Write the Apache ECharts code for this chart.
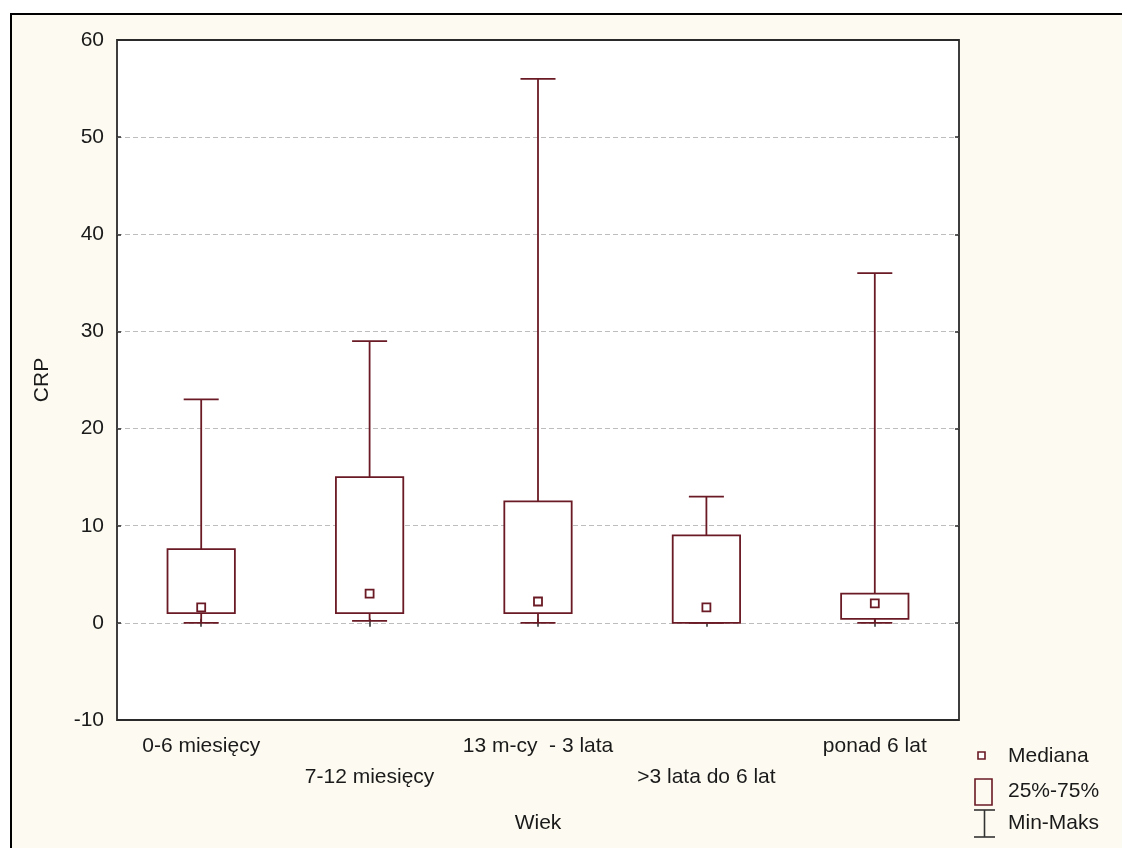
<!DOCTYPE html>
<html>
<head>
<meta charset="utf-8">
<title>CRP wg wieku</title>
<script src="https://cdn.jsdelivr.net/npm/echarts@6/dist/echarts.min.js"></script>
<style>
  html, body { margin: 0; padding: 0; background: #ffffff; }
  #chart { width: 1122px; height: 848px; }
</style>
</head>
<body>
<div id="chart"></div>
<script>
// Age groups and CRP summary statistics per group
const categories = ['0-6 miesięcy', '7-12 miesięcy', '13 m-cy  - 3 lata', '>3 lata do 6 lat', 'ponad 6 lat'];
const minValues    = [0,   0.2, 0,    0,   0];
const q1Values     = [1.0, 1.0, 1.0,  0,   0.4];
const medianValues = [1.6, 3.0, 2.2,  1.6, 2.0];
const q3Values     = [7.6, 15.0, 12.5, 9.0, 3.0];
const maxValues    = [23,  29,  56,   13,  36];
const yTicks = [-10, 0, 10, 20, 30, 40, 50, 60];

const LINE = '#6a1a24';
const TEXT = '#1a1a1a';
const FONT = 'Liberation Sans';
const FS = 21;

const boxData = categories.map((c, i) => [i, minValues[i], q1Values[i], medianValues[i], q3Values[i], maxValues[i]]);

function renderBox(params, api) {
  const idx = api.value(0);
  const band = api.size([1, 0])[0];
  const half = band * 0.2;
  const capHalf = half * 0.52;
  const pMin = api.coord([idx, api.value(1)]);
  const pQ1 = api.coord([idx, api.value(2)]);
  const pMed = api.coord([idx, api.value(3)]);
  const pQ3 = api.coord([idx, api.value(4)]);
  const pMax = api.coord([idx, api.value(5)]);
  const x = pQ1[0];
  const st = { stroke: LINE, lineWidth: 1.8, fill: null };
  const children = [
    { type: 'line', shape: { x1: x, y1: pMax[1], x2: x, y2: pQ3[1] }, style: st },
    { type: 'line', shape: { x1: x - capHalf, y1: pMax[1], x2: x + capHalf, y2: pMax[1] }, style: st },
    { type: 'line', shape: { x1: x, y1: pMin[1], x2: x, y2: pQ1[1] }, style: st },
    { type: 'line', shape: { x1: x - capHalf, y1: pMin[1], x2: x + capHalf, y2: pMin[1] }, style: st },
    { type: 'rect', shape: { x: x - half, y: pQ3[1], width: half * 2, height: pQ1[1] - pQ3[1] },
      style: { stroke: LINE, lineWidth: 1.8, fill: '#ffffff' } },
    { type: 'rect', shape: { x: pMed[0] - 4, y: pMed[1] - 4, width: 8, height: 8 },
      style: { stroke: LINE, lineWidth: 1.8, fill: '#ffffff' } }
  ];
  return { type: 'group', children: children };
}

const chart = echarts.init(document.getElementById('chart'));
chart.setOption({
  backgroundColor: '#ffffff',
  animation: false,
  graphic: [
    { type: 'rect', z: -10, silent: true,
      shape: { x: 11, y: 14, width: 1130, height: 850 },
      style: { fill: '#fdfbf1', stroke: '#000000', lineWidth: 2 } },
    // legend
    { type: 'rect', shape: { x: 978, y: 752, width: 7, height: 7 },
      style: { fill: '#ffffff', stroke: LINE, lineWidth: 1.6 } },
    { type: 'text', style: { x: 1008, y: 756, text: 'Mediana', fill: TEXT, font: FS + 'px ' + FONT, verticalAlign: 'middle' } },
    { type: 'rect', shape: { x: 975, y: 779, width: 17, height: 26 },
      style: { fill: 'none', stroke: LINE, lineWidth: 1.6 } },
    { type: 'text', style: { x: 1008, y: 791, text: '25%-75%', fill: TEXT, font: FS + 'px ' + FONT, verticalAlign: 'middle' } },
    { type: 'polyline', shape: { points: [[974, 810], [995, 810]] }, style: { stroke: '#333', lineWidth: 1.6 } },
    { type: 'polyline', shape: { points: [[984.5, 810], [984.5, 837]] }, style: { stroke: '#333', lineWidth: 1.6 } },
    { type: 'polyline', shape: { points: [[974, 837], [995, 837]] }, style: { stroke: '#333', lineWidth: 1.6 } },
    { type: 'text', style: { x: 1008, y: 823, text: 'Min-Maks', fill: TEXT, font: FS + 'px ' + FONT, verticalAlign: 'middle' } }
  ],
  grid: {
    left: 117, right: 163, top: 40, bottom: 128,
    show: true, backgroundColor: '#ffffff', borderColor: '#2a2a2a', borderWidth: 1.8,
    containLabel: false
  },
  xAxis: [{
    type: 'category',
    data: categories,
    boundaryGap: true,
    name: 'Wiek',
    nameLocation: 'middle',
    nameGap: 93,
    nameTextStyle: { fontFamily: FONT, fontSize: FS, color: TEXT },
    axisLine: { show: false },
    axisTick: { show: true, inside: true, alignWithLabel: true, length: 4, lineStyle: { color: '#2a2a2a', width: 1.5 } },
    axisLabel: {
      interval: 0, margin: 11, fontFamily: FONT, fontSize: FS, color: TEXT, lineHeight: 31,
      formatter: (v, i) => (i % 2 ? '\n' + v : v)
    },
    splitLine: { show: false }
  }, {
    type: 'category',
    data: categories,
    position: 'top',
    boundaryGap: true,
    axisLine: { show: false },
    axisTick: { show: true, inside: true, alignWithLabel: true, length: 4, lineStyle: { color: '#2a2a2a', width: 1.5 } },
    axisLabel: { show: false },
    splitLine: { show: false }
  }],
  yAxis: [{
    type: 'value',
    min: yTicks[0], max: yTicks[yTicks.length - 1], interval: 10,
    name: 'CRP',
    nameLocation: 'middle',
    nameGap: 64,
    nameRotate: 90,
    nameTextStyle: { fontFamily: FONT, fontSize: FS, color: TEXT },
    axisLine: { show: false },
    axisTick: { show: true, inside: true, length: 4, lineStyle: { color: '#2a2a2a', width: 1.5 } },
    axisLabel: { margin: 13, fontFamily: FONT, fontSize: FS, color: TEXT },
    splitLine: {
      show: true,
      showMinLine: false, showMaxLine: false,
      lineStyle: { color: '#bdbdbd', type: [5, 3], width: 1 }
    }
  }, {
    type: 'value',
    position: 'right',
    min: yTicks[0], max: yTicks[yTicks.length - 1], interval: 10,
    axisLine: { show: false },
    axisTick: { show: true, inside: true, length: 4, lineStyle: { color: '#2a2a2a', width: 1.5 } },
    axisLabel: { show: false },
    splitLine: { show: false }
  }],
  series: [{
    type: 'custom',
    xAxisIndex: 0,
    yAxisIndex: 0,
    renderItem: renderBox,
    encode: { x: 0, y: [1, 2, 3, 4, 5] },
    data: boxData,
    z: 10
  }]
});
</script>
</body>
</html>
